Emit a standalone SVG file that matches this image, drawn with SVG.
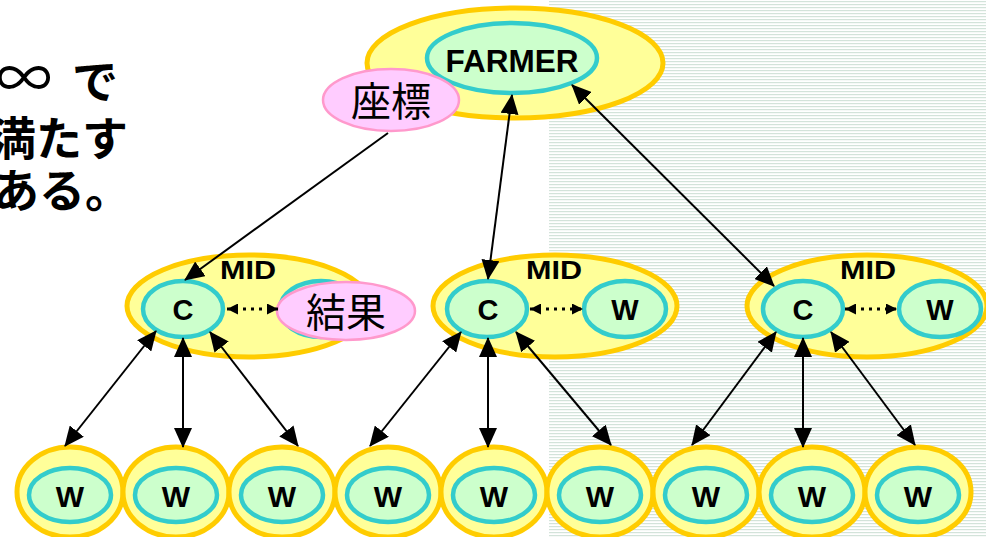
<svg xmlns="http://www.w3.org/2000/svg" width="986" height="537" viewBox="0 0 986 537">
<defs>
<pattern id="stripes" x="0" y="0" width="6" height="3" patternUnits="userSpaceOnUse">
<rect x="0" y="0" width="6" height="3" fill="#ffffff"/>
<rect x="0" y="1" width="6" height="1.2" fill="#d3e3da"/>
</pattern>
<marker id="ah" markerUnits="userSpaceOnUse" markerWidth="20" markerHeight="18" refX="19" refY="9" orient="auto-start-reverse" viewBox="0 0 20 18">
<path d="M0,0 L20,9 L0,18 z" fill="#000"/>
</marker>
<marker id="sh" markerUnits="userSpaceOnUse" markerWidth="11" markerHeight="11" refX="11" refY="5.5" orient="auto-start-reverse" viewBox="0 0 11 11">
<path d="M0,0 L11,5.5 L0,11 z" fill="#000"/>
</marker>
</defs>
<style>
.outer{fill:#ffff99;stroke:#ffcc00;stroke-width:5}
.inner{fill:#ccffcc;stroke:#33cccc;stroke-width:4.5}
.pink{fill:#ffccff;stroke:#ff99cc;stroke-width:2.5}
.lbl{font-family:"Liberation Sans",Arial,sans-serif;font-weight:bold;fill:#000;text-anchor:middle}
.jp{font-family:"Noto Sans CJK JP",sans-serif;fill:#000;font-weight:bold}
.jpc{font-family:"Noto Sans CJK JP",sans-serif;fill:#000;text-anchor:middle}
.con{stroke:#000;stroke-width:2;fill:none}
.dot{stroke:#000;stroke-width:3;stroke-dasharray:3 5;fill:none}
</style>
<rect x="0" y="0" width="986" height="537" fill="#ffffff"/>
<rect x="549" y="0" width="437" height="537" fill="url(#stripes)"/>

<g id="left-text">
<text class="jp" x="0" y="98" font-size="46"><tspan x="-4" font-weight="normal" font-size="56">∞</tspan> <tspan x="72">で</tspan></text>
<text class="jp" x="-10" y="155" font-size="46">満たす</text>
<text class="jp" x="-7" y="207" font-size="46">ある。</text>
</g>

<g id="farmer">
<ellipse class="outer" cx="515" cy="63" rx="148" ry="55"/>
<ellipse class="inner" cx="512" cy="58" rx="85" ry="35"/>
<text class="lbl" x="512" y="72" font-size="32" textLength="133" lengthAdjust="spacingAndGlyphs">FARMER</text>
</g>

<g id="zahyo">
<ellipse class="pink" cx="391" cy="100" rx="68" ry="31"/>
<text class="jpc" x="391" y="116" font-size="40">座標</text>
</g>

<g id="mid1">
<ellipse class="outer" cx="249" cy="306" rx="122" ry="51"/>
<text class="lbl" x="248" y="279" font-size="25" textLength="56" lengthAdjust="spacingAndGlyphs">MID</text>
<ellipse class="inner" cx="183" cy="309" rx="40" ry="28"/>
<text class="lbl" x="183" y="320" font-size="29">C</text>
<ellipse class="inner" cx="321" cy="309" rx="41" ry="28"/>
</g>

<g id="kekka">
<ellipse class="pink" cx="346" cy="311" rx="69" ry="29"/>
<text class="jpc" x="346" y="327" font-size="40">結果</text>
</g>

<g id="mid2">
<ellipse class="outer" cx="555" cy="306" rx="122" ry="51"/>
<text class="lbl" x="554" y="279" font-size="25" textLength="56" lengthAdjust="spacingAndGlyphs">MID</text>
<ellipse class="inner" cx="487" cy="309" rx="40" ry="28"/>
<text class="lbl" x="488" y="320" font-size="29">C</text>
<ellipse class="inner" cx="625" cy="309" rx="41" ry="28"/>
<text class="lbl" x="625" y="320" font-size="29">W</text>
</g>

<g id="mid3">
<ellipse class="outer" cx="867" cy="306" rx="120" ry="51"/>
<text class="lbl" x="868" y="279" font-size="25" textLength="56" lengthAdjust="spacingAndGlyphs">MID</text>
<ellipse class="inner" cx="803" cy="309" rx="40" ry="28"/>
<text class="lbl" x="803" y="320" font-size="29">C</text>
<ellipse class="inner" cx="940" cy="309" rx="41" ry="28"/>
<text class="lbl" x="940" y="320" font-size="29">W</text>
</g>

<g id="w1"><ellipse class="outer" cx="70" cy="492" rx="53" ry="45"/><ellipse class="inner" cx="70" cy="495" rx="41" ry="27"/><text class="lbl" x="70" y="507" font-size="30">W</text></g>
<g id="w2"><ellipse class="outer" cx="176" cy="492" rx="53" ry="45"/><ellipse class="inner" cx="176" cy="495" rx="41" ry="27"/><text class="lbl" x="176" y="507" font-size="30">W</text></g>
<g id="w3"><ellipse class="outer" cx="282" cy="492" rx="53" ry="45"/><ellipse class="inner" cx="282" cy="495" rx="41" ry="27"/><text class="lbl" x="282" y="507" font-size="30">W</text></g>
<g id="w4"><ellipse class="outer" cx="388" cy="492" rx="53" ry="45"/><ellipse class="inner" cx="388" cy="495" rx="41" ry="27"/><text class="lbl" x="388" y="507" font-size="30">W</text></g>
<g id="w5"><ellipse class="outer" cx="494" cy="492" rx="53" ry="45"/><ellipse class="inner" cx="494" cy="495" rx="41" ry="27"/><text class="lbl" x="494" y="507" font-size="30">W</text></g>
<g id="w6"><ellipse class="outer" cx="600" cy="492" rx="53" ry="45"/><ellipse class="inner" cx="600" cy="495" rx="41" ry="27"/><text class="lbl" x="600" y="507" font-size="30">W</text></g>
<g id="w7"><ellipse class="outer" cx="706" cy="492" rx="53" ry="45"/><ellipse class="inner" cx="706" cy="495" rx="41" ry="27"/><text class="lbl" x="706" y="507" font-size="30">W</text></g>
<g id="w8"><ellipse class="outer" cx="812" cy="492" rx="53" ry="45"/><ellipse class="inner" cx="812" cy="495" rx="41" ry="27"/><text class="lbl" x="812" y="507" font-size="30">W</text></g>
<g id="w9"><ellipse class="outer" cx="918" cy="492" rx="53" ry="45"/><ellipse class="inner" cx="918" cy="495" rx="41" ry="27"/><text class="lbl" x="918" y="507" font-size="30">W</text></g>

<g id="connectors">
<line class="con" x1="388" y1="133" x2="185" y2="280" marker-end="url(#ah)"/>
<line class="con" x1="512" y1="95" x2="488" y2="279" marker-start="url(#ah)" marker-end="url(#ah)"/>
<line class="con" x1="572" y1="85" x2="774" y2="286" marker-start="url(#ah)" marker-end="url(#ah)"/>

<line class="con" x1="156" y1="331" x2="65" y2="446" marker-start="url(#ah)" marker-end="url(#ah)"/>
<line class="con" x1="183" y1="338" x2="183" y2="447" marker-start="url(#ah)" marker-end="url(#ah)"/>
<line class="con" x1="210" y1="332" x2="298" y2="446" marker-start="url(#ah)" marker-end="url(#ah)"/>

<line class="con" x1="461" y1="332" x2="370" y2="446" marker-start="url(#ah)" marker-end="url(#ah)"/>
<line class="con" x1="488" y1="338" x2="488" y2="447" marker-start="url(#ah)" marker-end="url(#ah)"/>
<line class="con" x1="516" y1="332" x2="611" y2="445" marker-start="url(#ah)" marker-end="url(#ah)"/>

<line class="con" x1="776" y1="332" x2="692" y2="445" marker-start="url(#ah)" marker-end="url(#ah)"/>
<line class="con" x1="803" y1="338" x2="803" y2="447" marker-start="url(#ah)" marker-end="url(#ah)"/>
<line class="con" x1="831" y1="332" x2="915" y2="445" marker-start="url(#ah)" marker-end="url(#ah)"/>

<line class="dot" x1="227" y1="309" x2="278" y2="309" marker-start="url(#sh)" marker-end="url(#sh)"/>
<line class="dot" x1="530" y1="309" x2="583" y2="309" marker-start="url(#sh)" marker-end="url(#sh)"/>
<line class="dot" x1="845" y1="309" x2="897" y2="309" marker-start="url(#sh)" marker-end="url(#sh)"/>
</g>
</svg>
